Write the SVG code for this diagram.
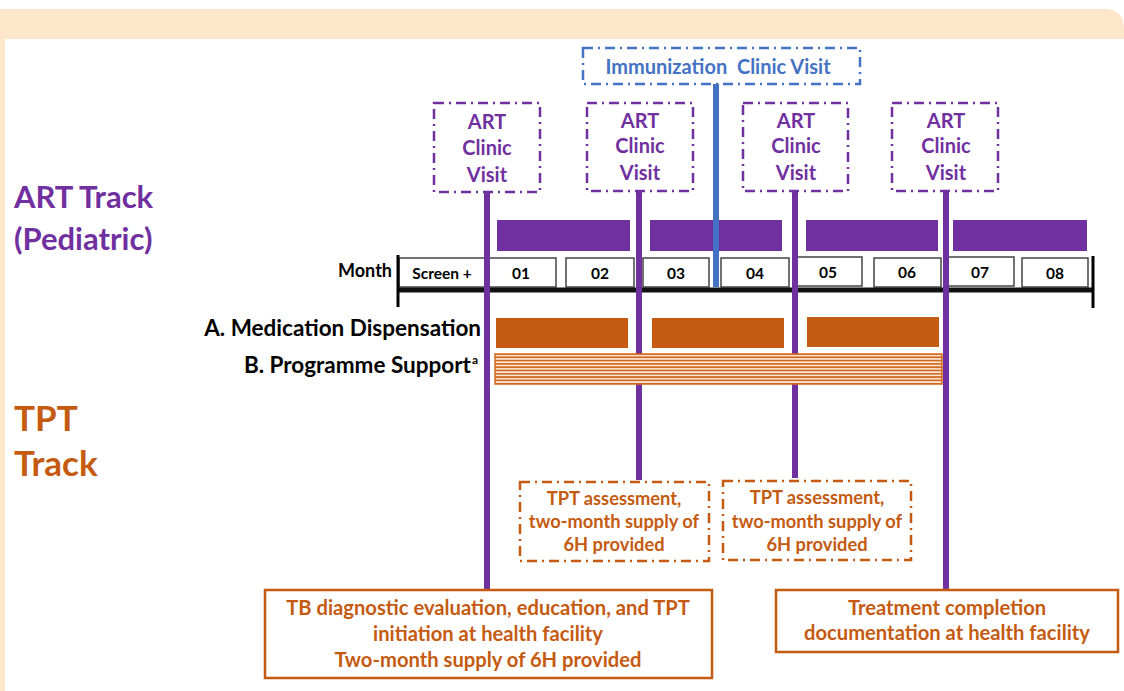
<svg xmlns="http://www.w3.org/2000/svg" width="1124" height="691" viewBox="0 0 1124 691">
<style>
text{font-family:Lato,"Liberation Sans",sans-serif;font-weight:bold}
.pu{fill:#7030A0}
.or{fill:#C55A11}
.bl{fill:#4472C4}
.bk{fill:#000}
.c{text-anchor:middle}
.r{text-anchor:end}
.dpu{fill:#fff;stroke:#7030A0;stroke-width:2.5;stroke-dasharray:10 5 2 5}
.dbl{fill:#fff;stroke:#4472C4;stroke-width:2.5;stroke-dasharray:10 5 2 5}
.dor{fill:#fff;stroke:#C55A11;stroke-width:2.5;stroke-dasharray:10 5 2 5}
.sor{fill:#fff;stroke:#C55A11;stroke-width:2.5}
.cell{fill:#fff;stroke:#444;stroke-width:1.5}
.vp{stroke:#7030A0;stroke-width:6}
.vb{stroke:#4472C4;stroke-width:6}
.ct{font-size:15.5px}
.cv{font-size:20px}
.tp{font-size:18.3px}
.bx{font-size:20.2px}
</style>
<defs>
<pattern id="hatch" width="10" height="3.3" patternUnits="userSpaceOnUse">
<rect width="10" height="3.3" fill="#fdf0e6"/>
<rect width="10" height="1.8" fill="#D2691E"/>
</pattern>
</defs>
<path d="M0,9 H1104 Q1124,9 1124,29 V691 H0 Z" fill="#FEE6CB"/>
<rect x="5" y="39" width="1119" height="652" fill="#fff"/>

<g id="track-labels">
<text class="pu" x="14" y="208" font-size="31">ART Track</text>
<text class="pu" x="14" y="250" font-size="31">(Pediatric)</text>
<text class="or" x="14" y="431" font-size="35">TPT</text>
<text class="or" x="14" y="476" font-size="35">Track</text>
</g>

<g id="bars-art">
<rect class="pu" x="497" y="220" width="133" height="31"/>
<rect class="pu" x="650" y="220" width="132" height="31"/>
<rect class="pu" x="806" y="220" width="132" height="31"/>
<rect class="pu" x="953" y="220" width="134" height="31"/>
</g>

<g id="month-axis">
<text class="bk r" x="392" y="277" font-size="18">Month</text>
<rect class="cell" x="399" y="258" width="86" height="29"/>
<rect class="cell" x="487" y="258" width="69" height="29"/>
<rect class="cell" x="566" y="258" width="68" height="29"/>
<rect class="cell" x="643" y="258" width="66" height="29"/>
<rect class="cell" x="721" y="258" width="68" height="29"/>
<rect class="cell" x="795" y="257" width="67" height="29"/>
<rect class="cell" x="874" y="258" width="67" height="29"/>
<rect class="cell" x="947" y="257" width="67" height="29"/>
<rect class="cell" x="1022" y="258" width="66" height="29"/>
<text class="bk c ct" x="442" y="279">Screen +</text>
<text class="bk c ct" x="521" y="279">01</text>
<text class="bk c ct" x="600" y="279">02</text>
<text class="bk c ct" x="676" y="279">03</text>
<text class="bk c ct" x="755" y="279">04</text>
<text class="bk c ct" x="828" y="278">05</text>
<text class="bk c ct" x="907" y="278">06</text>
<text class="bk c ct" x="980" y="278">07</text>
<text class="bk c ct" x="1055" y="279">08</text>
<line x1="398" y1="290" x2="1092" y2="290" stroke="#111" stroke-width="5"/>
<line x1="398" y1="255" x2="398" y2="307" stroke="#000" stroke-width="3"/>
<line x1="1093" y1="256" x2="1093" y2="308" stroke="#000" stroke-width="3"/>
</g>

<g id="connectors">
<line class="vb" x1="716" y1="84" x2="716" y2="287"/>
<line class="vp" x1="487" y1="192" x2="487" y2="589"/>
<line class="vp" x1="639" y1="190" x2="639" y2="480"/>
<line class="vp" x1="795" y1="190" x2="795" y2="478"/>
<line class="vp" x1="946" y1="190" x2="946" y2="589"/>
</g>

<g id="medication-dispensation">
<text class="bk r" x="481" y="336" font-size="22.5">A. Medication Dispensation</text>
<rect class="or" x="496" y="318" width="132" height="30"/>
<rect class="or" x="652" y="318" width="132" height="30"/>
<rect class="or" x="807" y="317" width="132" height="30"/>
</g>

<g id="programme-support">
<text class="bk r" x="471" y="373" font-size="22.5">B. Programme Support</text>
<text class="bk" x="472" y="364" font-size="12">a</text>
<rect x="495" y="354" width="447" height="30" fill="url(#hatch)" stroke="#D2691E" stroke-width="1.5"/>
</g>

<g id="immunization-visit">
<rect class="dbl" x="583" y="48" width="277" height="36"/>
<text class="bl c" x="718" y="74" font-size="20" style="white-space:pre">Immunization  Clinic Visit</text>
</g>

<g id="art-visit-1">
<rect class="dpu" x="434" y="103" width="106" height="89"/>
<text class="pu c cv" x="487" y="129">ART</text>
<text class="pu c cv" x="487" y="155">Clinic</text>
<text class="pu c cv" x="487" y="182">Visit</text>
</g>
<g id="art-visit-2">
<rect class="dpu" x="587" y="103" width="106" height="88"/>
<text class="pu c cv" x="640" y="128">ART</text>
<text class="pu c cv" x="640" y="153">Clinic</text>
<text class="pu c cv" x="640" y="180">Visit</text>
</g>
<g id="art-visit-3">
<rect class="dpu" x="743" y="103" width="105" height="88"/>
<text class="pu c cv" x="796" y="128">ART</text>
<text class="pu c cv" x="796" y="153">Clinic</text>
<text class="pu c cv" x="796" y="180">Visit</text>
</g>
<g id="art-visit-4">
<rect class="dpu" x="892" y="103" width="106" height="88"/>
<text class="pu c cv" x="946" y="128">ART</text>
<text class="pu c cv" x="946" y="153">Clinic</text>
<text class="pu c cv" x="946" y="180">Visit</text>
</g>

<g id="tpt-assessment-1">
<rect class="dor" x="520" y="482" width="189" height="79"/>
<text class="or c tp" x="614" y="505">TPT assessment,</text>
<text class="or c tp" x="614" y="528">two-month supply of</text>
<text class="or c tp" x="614" y="551">6H provided</text>
</g>
<g id="tpt-assessment-2">
<rect class="dor" x="723" y="481" width="188" height="79"/>
<text class="or c tp" x="817" y="504">TPT assessment,</text>
<text class="or c tp" x="817" y="528">two-month supply of</text>
<text class="or c tp" x="817" y="551">6H provided</text>
</g>

<g id="tb-evaluation">
<rect class="sor" x="265" y="590" width="447" height="88"/>
<text class="or c bx" x="488" y="615">TB diagnostic evaluation, education, and TPT</text>
<text class="or c bx" x="488" y="641">initiation at health facility</text>
<text class="or c bx" x="488" y="667">Two-month supply of 6H provided</text>
</g>

<g id="treatment-completion">
<rect class="sor" x="776" y="590" width="342" height="62"/>
<text class="or c bx" x="947" y="615">Treatment completion</text>
<text class="or c bx" x="947" y="640">documentation at health facility</text>
</g>
</svg>
